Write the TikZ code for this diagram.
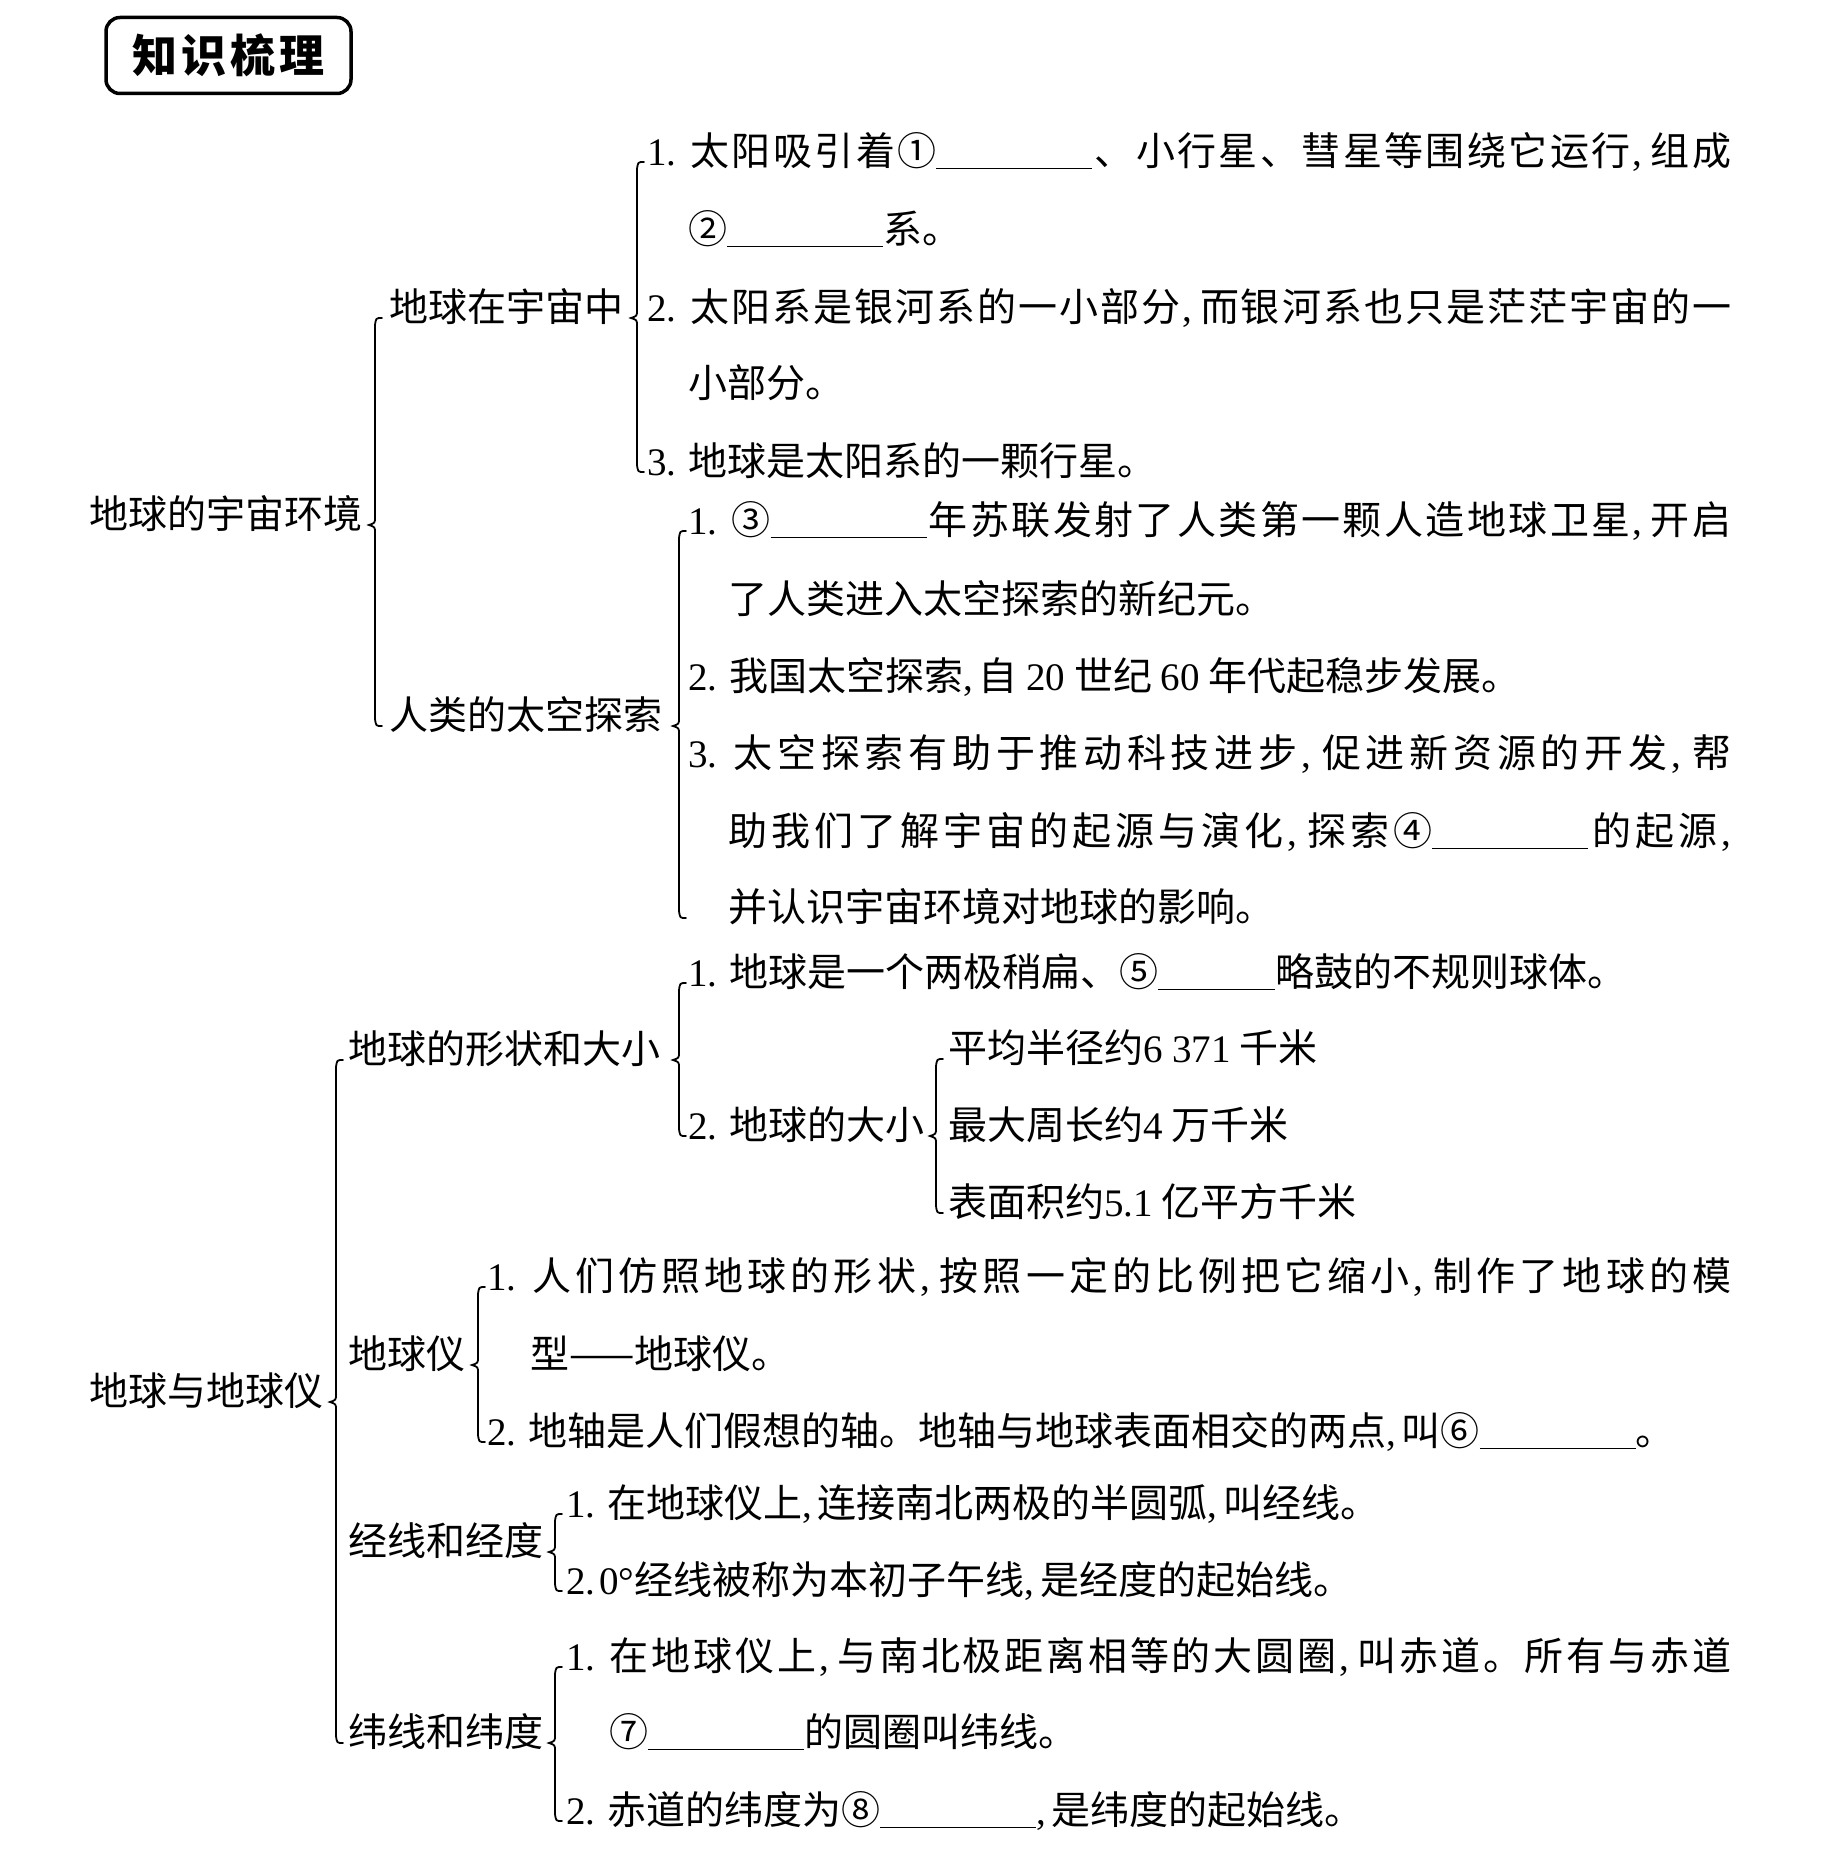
\documentclass[tikz,border=0pt]{standalone}
\usepackage{fontspec}
\setmainfont{Noto Sans CJK SC}
\newfontfamily\lat{Liberation Serif}
\usetikzlibrary{calc}
\newcommand\fs{\fontsize{39}{47}\selectfont}
\newcommand\nm[1]{{\lat #1.}\kern0.3em}
\newcommand\cm{{\lat ,}\kern0.15em}
\newcommand\blank[1][4em]{\rule[-0.1em]{#1}{1.6pt}}
\newcommand\jg{\hskip 0pt plus 1fil\relax}
\def\jstop{\jstop}
\def\jsp#1{\jspa#1\jstop}
\def\jspa#1{\ifx#1\jstop\else#1\jg\expandafter\jspa\fi}
\newcommand\jl[2]{\makebox[#1][s]{#2\unskip}}
\newcommand\brc[4]{% parent, top child, bottom child, gap
  \draw[brcs] let \p1=(#1.east), \p2=(#2.west), \p3=(#3.west),
    \p4=($(#2.west)+(-#4pt,0)$) in
  (\x4+7pt,\y2) .. controls (\x4+1pt,\y2) .. (\x4,\y2-7pt)
  -- (\x4,\y1+8pt) .. controls (\x4,\y1+2pt) .. (\x4-6pt,\y1)
  .. controls (\x4,\y1-2pt) .. (\x4,\y1-8pt)
  -- (\x4,\y3+7pt) .. controls (\x4+1pt,\y3) .. (\x4+7pt,\y3);}
\begin{document}
\begin{tikzpicture}[x=1pt,y=-1pt,
  txt/.style={anchor=west,inner sep=0pt,text height=0.84em,text depth=0.16em,font=\fs,yshift=-12pt},
  brcs/.style={line width=1.8pt,line cap=round}]
\useasboundingbox (0,0) rectangle (1821,1851);
\fill[white] (0,0) rectangle (1821,1851);

\node[draw,line width=3.5pt,rounded corners=14pt,minimum width=245pt,minimum height=76pt,
  inner sep=0pt,font=\fontsize{45}{50}\selectfont\bfseries] (title) at (228.5,55.5)
  {知\kern4pt{}识\kern4pt{}梳\kern4pt{}理};

% ---- part 1
\node[txt] (r1) at (89,513) {地球的宇宙环境};
\node[txt] (A) at (389,306) {地球在宇宙中};
\node[txt] (a1) at (647,150) {\jl{1084pt}{\nm{1}\jg\jsp{太阳吸引着}①\blank{}\jg\jsp{、小行星、彗星等围绕它运行}\cm{}\jg\jsp{组成}}};
\node[txt] (a1b) at (688,228) {②\blank{}系。};
\node[txt] (a2) at (647,306) {\jl{1084pt}{\nm{2}\jg\jsp{太阳系是银河系的一小部分}\cm{}\jg\jsp{而银河系也只是茫茫宇宙的一}}};
\node[txt] (a2b) at (688,382) {小部分。};
\node[txt] (a3) at (647,460) {\nm{3}地球是太阳系的一颗行星。};

\node[txt] (B) at (389,714) {人类的太空探索};
\node[txt] (b1) at (688,519) {\jl{1043pt}{\nm{1}\jg③\blank{}\jg\jsp{年苏联发射了人类第一颗人造地球卫星}\cm{}\jg\jsp{开启}}};
\node[txt] (b1b) at (728,598) {了人类进入太空探索的新纪元。};
\node[txt] (b2) at (688,675) {\nm{2}我国太空探索\cm{}自 {\lat 20} 世纪 {\lat 60} 年代起稳步发展。};
\node[txt] (b3) at (688,752) {\jl{1043pt}{\nm{3}\jg\jsp{太空探索有助于推动科技进步}\cm{}\jg\jsp{促进新资源的开发}\cm{}\jg\jsp{帮}}};
\node[txt] (b3b) at (728,830) {\jl{1003pt}{\jsp{助我们了解宇宙的起源与演化}\cm{}\jg\jsp{探索}④\blank{}\jg\jsp{的起源}{\lat ,}}};
\node[txt] (b3c) at (728,906) {并认识宇宙环境对地球的影响。};

% ---- part 2
\node[txt] (r2) at (89,1390) {地球与地球仪};
\node[txt] (C) at (348,1048) {地球的形状和大小};
\node[txt] (c1) at (688,971) {\nm{1}地球是一个两极稍扁、⑤\blank[3em]{}略鼓的不规则球体。};
\node[txt] (c2) at (688,1124) {\nm{2}地球的大小};
\node[txt] (c21) at (948,1047) {平均半径约{\lat 6 371} 千米};
\node[txt] (c22) at (948,1124) {最大周长约{\lat 4} 万千米};
\node[txt] (c23) at (948,1201) {表面积约{\lat 5.1} 亿平方千米};

\node[txt] (D) at (348,1353) {地球仪};
\node[txt] (d1) at (487,1275) {\jl{1244pt}{\nm{1}\jg\jsp{人们仿照地球的形状}\cm{}\jg\jsp{按照一定的比例把它缩小}\cm{}\jg\jsp{制作了地球的模}}};
\node[txt] (d1b) at (530,1353) {型——地球仪。};
\node[txt] (d2) at (487,1430) {\nm{2}地轴是人们假想的轴。地轴与地球表面相交的两点\cm{}叫⑥\blank{}。};

\node[txt] (E) at (348,1540) {经线和经度};
\node[txt] (e1) at (566,1502) {\nm{1}在地球仪上\cm{}连接南北两极的半圆弧\cm{}叫经线。};
\node[txt] (e2) at (566,1579) {{\lat 2.\kern0.1em 0°}经线被称为本初子午线\cm{}是经度的起始线。};

\node[txt] (F) at (348,1731) {纬线和纬度};
\node[txt] (f1) at (566,1655) {\jl{1165pt}{\nm{1}\jg\jsp{在地球仪上}\cm{}\jg\jsp{与南北极距离相等的大圆圈}\cm{}\jg\jsp{叫赤道。所有与赤道}}};
\node[txt] (f1b) at (609,1731) {⑦\blank{}的圆圈叫纬线。};
\node[txt] (f2) at (566,1809) {\nm{2}赤道的纬度为⑧\blank{}\cm{}是纬度的起始线。};

% ---- braces
\brc{r1}{A}{B}{14}
\brc{A}{a1}{a3}{10}
\brc{B}{b1}{b3c}{9}
\brc{r2}{C}{F}{12}
\brc{C}{c1}{c2}{9}
\brc{c2}{c21}{c23}{12}
\brc{D}{d1}{d2}{9}
\brc{E}{e1}{e2}{11}
\brc{F}{f1}{f2}{11}
\end{tikzpicture}
\end{document}
